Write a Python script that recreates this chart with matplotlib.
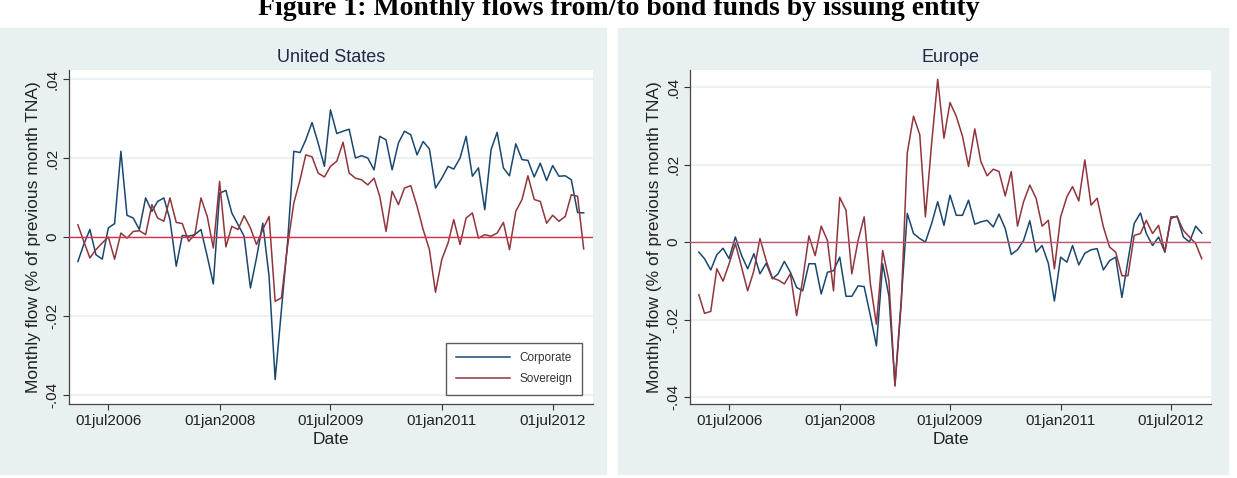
import matplotlib
matplotlib.use("Agg")
from matplotlib import pyplot as plt
from matplotlib.patches import Rectangle
import pandas as pd

plt.rcParams['font.family'] = ['Liberation Sans', 'DejaVu Sans']

# monthly flows, Feb 2006 - Dec 2012
dates = pd.date_range('2006-02-01', periods=83, freq='MS')

us_corporate = [
    -0.0062, -0.0020, 0.0019, -0.0045, -0.0056, 0.0023, 0.0034, 0.0217, 0.0055, 0.0048, 0.0019,
    0.0099, 0.0065, 0.0090, 0.0099, 0.0044, -0.0074, 0.0004, 0.0002, 0.0006, 0.0019, -0.0049, -0.0119,
    0.0111, 0.0118, 0.0061, 0.0031, 0.0002, -0.0129, -0.0053, 0.0035, -0.0100, -0.0361, -0.0184, -0.0015,
    0.0217, 0.0214, 0.0246, 0.0290, 0.0238, 0.0179, 0.0322, 0.0262, 0.0268, 0.0273, 0.0200, 0.0206,
    0.0200, 0.0170, 0.0255, 0.0246, 0.0170, 0.0238, 0.0268, 0.0259, 0.0208, 0.0242, 0.0223, 0.0124,
    0.0149, 0.0179, 0.0172, 0.0200, 0.0255, 0.0154, 0.0175, 0.0069, 0.0221, 0.0265, 0.0175, 0.0155,
    0.0236, 0.0196, 0.0194, 0.0152, 0.0187, 0.0143, 0.0181, 0.0154, 0.0155, 0.0145, 0.0062, 0.0061]

us_sovereign = [
    0.0031, -0.0010, -0.0053, -0.0032, -0.0015, 0.0000, -0.0056, 0.0010, -0.0003, 0.0014, 0.0016,
    0.0006, 0.0082, 0.0048, 0.0040, 0.0099, 0.0037, 0.0034, -0.0011, 0.0006, 0.0099, 0.0052, -0.0028,
    0.0141, -0.0025, 0.0027, 0.0019, 0.0054, 0.0023, -0.0019, 0.0019, 0.0052, -0.0163, -0.0154, -0.0024,
    0.0086, 0.0145, 0.0208, 0.0203, 0.0162, 0.0152, 0.0179, 0.0192, 0.0240, 0.0162, 0.0149, 0.0145,
    0.0132, 0.0149, 0.0103, 0.0014, 0.0116, 0.0082, 0.0124, 0.0130, 0.0078, 0.0019, -0.0032, -0.0140,
    -0.0057, -0.0015, 0.0044, -0.0019, 0.0048, 0.0061, -0.0003, 0.0006, 0.0002, 0.0010, 0.0037, -0.0032,
    0.0065, 0.0095, 0.0155, 0.0095, 0.0090, 0.0035, 0.0055, 0.0040, 0.0052, 0.0107, 0.0103, -0.0030]

eu_corporate = [
    -0.0026, -0.0043, -0.0072, -0.0033, -0.0016, -0.0043, 0.0013, -0.0035, -0.0069, -0.0030, -0.0082,
    -0.0055, -0.0095, -0.0082, -0.0050, -0.0078, -0.0117, -0.0126, -0.0056, -0.0056, -0.0134, -0.0078, -0.0074,
    -0.0039, -0.0140, -0.0140, -0.0113, -0.0115, -0.0190, -0.0268, -0.0056, -0.0140, -0.0368, -0.0150, 0.0074,
    0.0022, 0.0009, 0.0000, 0.0048, 0.0104, 0.0043, 0.0121, 0.0069, 0.0069, 0.0108, 0.0046, 0.0052,
    0.0056, 0.0039, 0.0072, 0.0035, -0.0032, -0.0020, 0.0004, 0.0055, -0.0026, -0.0009, -0.0055, -0.0152,
    -0.0039, -0.0052, -0.0009, -0.0059, -0.0029, -0.0020, -0.0017, -0.0072, -0.0048, -0.0039, -0.0143, -0.0048,
    0.0048, 0.0075, 0.0022, -0.0009, 0.0013, -0.0026, 0.0061, 0.0067, 0.0013, 0.0000, 0.0041, 0.0023]

eu_sovereign = [
    -0.0136, -0.0184, -0.0179, -0.0069, -0.0101, -0.0056, -0.0004, -0.0065, -0.0126, -0.0074, 0.0009,
    -0.0048, -0.0093, -0.0098, -0.0108, -0.0082, -0.0190, -0.0098, 0.0016, -0.0035, 0.0041, 0.0004, -0.0126,
    0.0115, 0.0082, -0.0082, 0.0004, 0.0065, -0.0108, -0.0212, -0.0022, -0.0100, -0.0372, -0.0160, 0.0230,
    0.0325, 0.0277, 0.0065, 0.0255, 0.0420, 0.0268, 0.0360, 0.0325, 0.0273, 0.0195, 0.0292, 0.0208,
    0.0171, 0.0188, 0.0182, 0.0119, 0.0182, 0.0041, 0.0104, 0.0147, 0.0113, 0.0041, 0.0056, -0.0069,
    0.0065, 0.0117, 0.0143, 0.0106, 0.0212, 0.0095, 0.0113, 0.0039, -0.0013, -0.0026, -0.0087, -0.0087,
    0.0017, 0.0022, 0.0056, 0.0022, 0.0043, -0.0026, 0.0065, 0.0065, 0.0030, 0.0013, -0.0004, -0.0043]

xtick_dates = ['2006-07-01', '2008-01-01', '2009-07-01', '2011-01-01', '2012-07-01']
xtick_labels = ['01jul2006', '01jan2008', '01jul2009', '01jan2011', '01jul2012']
ytick_vals = [-0.04, -0.02, 0, 0.02, 0.04]
ytick_labels = ['-.04', '-.02', '0', '.02', '.04']

NAVY = '#1a476f'
MAROON = '#90353b'
PANEL_BG = '#e8f0f2'
GRID = '#e9f0f2'


def draw_panel(ax, title, corp, sov, ylim, zero_color, legend=False):
    ax.set_facecolor('white')
    for y in ytick_vals:
        ax.axhline(y, color=GRID, lw=1.2, zorder=0)
    ax.plot(dates, corp, color=NAVY, lw=1.1, label='Corporate', zorder=2)
    ax.plot(dates, sov, color=MAROON, lw=1.1, label='Sovereign', zorder=3)
    ax.axhline(0, color=zero_color, lw=1.0, zorder=4)

    ax.set_xlim(pd.Timestamp('2005-12-19'), pd.Timestamp('2013-01-16'))
    ax.set_ylim(*ylim)
    ax.set_xticks(pd.to_datetime(xtick_dates))
    ax.set_xticklabels(xtick_labels)
    ax.set_yticks(ytick_vals)
    ax.set_yticklabels(ytick_labels, rotation=90, va='center')
    ax.tick_params(axis='both', labelsize=11, colors='#333333', labelcolor='#222222',
                   length=4, width=0.8, pad=3)

    for side in ['top', 'right']:
        ax.spines[side].set_visible(False)
    for side in ['left', 'bottom']:
        ax.spines[side].set_color('#444444')
        ax.spines[side].set_linewidth(0.9)

    ax.set_title(title, fontsize=13, color='#1e2a44', pad=6)
    ax.set_xlabel('Date', fontsize=12.5, color='#222222', labelpad=3)
    ax.set_ylabel('Monthly flow (% of previous month TNA)', fontsize=12.5,
                  color='#222222', labelpad=3)

    if legend:
        leg = ax.legend(loc='lower right', bbox_to_anchor=(0.99, 0.01), fontsize=8.5,
                        frameon=True, fancybox=False, handlelength=4.6,
                        labelspacing=0.75, borderpad=0.8, handletextpad=0.8)
        leg.get_frame().set_edgecolor('#333333')
        leg.get_frame().set_linewidth(1.0)
        for t in leg.get_texts():
            t.set_color('#333333')


fig = plt.figure(figsize=(12.37, 4.78), dpi=100)

W, H = 1237.0, 478.0
# light panel backgrounds behind each graph
fig.patches.append(Rectangle((0 / W, 1 - 474 / H), 606 / W, 446 / H,
                             transform=fig.transFigure, color=PANEL_BG, zorder=-1))
fig.patches.append(Rectangle((618 / W, 1 - 474 / H), 610 / W, 446 / H,
                             transform=fig.transFigure, color=PANEL_BG, zorder=-1))

ax1 = fig.add_axes([69 / W, 1 - 404 / H, 524 / W, 334 / H])
ax2 = fig.add_axes([690 / W, 1 - 404 / H, 521 / W, 334 / H])

draw_panel(ax1, 'United States', us_corporate, us_sovereign, (-0.0423, 0.0423),
           '#d9304f', legend=True)
draw_panel(ax2, 'Europe', eu_corporate, eu_sovereign, (-0.0418, 0.0444), '#c25670')

fig.text(0.5, 1 - 15 / H, 'Figure 1: Monthly flows from/to bond funds by issuing entity',
         ha='center', va='baseline', fontsize=20, fontweight='bold',
         family='Liberation Serif', color='black')

plt.savefig('out.png', dpi=100)
